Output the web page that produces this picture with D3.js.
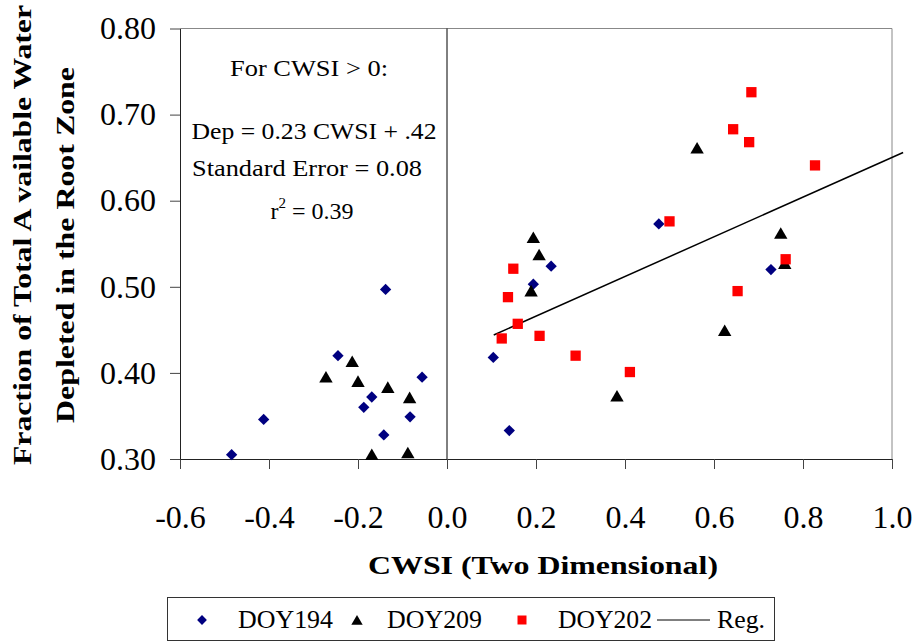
<!DOCTYPE html>
<html><head><meta charset="utf-8">
<script src="https://cdn.jsdelivr.net/npm/d3@7"></script>
<style>body{margin:0;background:#fff}svg{display:block}</style>
</head><body>
<svg id="c" width="915" height="642"></svg>
<script>
// ---- data ----
const xTicks = [-0.6, -0.4, -0.2, 0.0, 0.2, 0.4, 0.6, 0.8, 1.0];
const yTicks = [0.30, 0.40, 0.50, 0.60, 0.70, 0.80];

const doy194X = [-0.484, -0.412, -0.245, -0.056, -0.169, -0.187, -0.083, -0.142, -0.138, 0.234, 0.194, 0.104, 0.140, 0.476, 0.728];
const doy194Y = [0.305, 0.346, 0.420, 0.395, 0.372, 0.360, 0.349, 0.328, 0.497, 0.524, 0.503, 0.418, 0.333, 0.573, 0.520];

const doy209X = [-0.213, -0.272, -0.200, -0.133, -0.084, -0.169, -0.088, 0.194, 0.207, 0.189, 0.382, 0.562, 0.750, 0.759, 0.624];
const doy209Y = [0.413, 0.395, 0.390, 0.383, 0.371, 0.305, 0.307, 0.557, 0.537, 0.495, 0.373, 0.661, 0.562, 0.527, 0.449];

const doy202X = [0.149, 0.137, 0.159, 0.123, 0.208, 0.289, 0.411, 0.684, 0.643, 0.679, 0.827, 0.500, 0.761, 0.653];
const doy202Y = [0.521, 0.488, 0.457, 0.440, 0.443, 0.420, 0.401, 0.726, 0.683, 0.668, 0.641, 0.576, 0.532, 0.495];

const regX = [0.105, 1.025];
const regY = [0.444, 0.656];

const seriesNames = ["DOY194", "DOY209", "DOY202", "Reg."];
const annotation = ["For CWSI > 0:", "Dep = 0.23 CWSI + .42", "Standard Error = 0.08"];
const xTitle = "CWSI (Two Dimensional)";
const yTitle = ["Fraction of Total A vailable Water", "Depleted in the Root Zone"];

// ---- chart ----
const svg = d3.select("#c");
const serif = "Liberation Serif, Times New Roman, serif";
const L = 180, R = 892, T = 28.5, B = 459;
const x = d3.scaleLinear().domain([-0.6, 1.0]).range([L, R]);
const y = d3.scaleLinear().domain([0.3, 0.8]).range([B, T]);

// frame: top/right grey
svg.append("line").attr("x1", L).attr("x2", R).attr("y1", T).attr("y2", T).attr("stroke", "#888").attr("stroke-width", 1);
svg.append("line").attr("x1", R).attr("x2", R).attr("y1", T).attr("y2", B).attr("stroke", "#888").attr("stroke-width", 1);

// axes
const xAxis = d3.axisBottom(x).tickValues(xTicks).tickSize(10).tickSizeOuter(0).tickPadding(36)
  .tickFormat(d => d.toFixed(1));
const gx = svg.append("g").attr("transform", `translate(0,${B})`).call(xAxis);
gx.selectAll("text").attr("font-family", serif).attr("font-size", 32).attr("fill", "#000");
gx.select(".domain").attr("stroke", "#222");
gx.selectAll(".tick line").attr("stroke", "#444");

const yAxis = d3.axisLeft(y).tickValues(yTicks).tickSize(10).tickSizeOuter(0).tickPadding(14)
  .tickFormat(d => d.toFixed(2));
const gy = svg.append("g").attr("transform", `translate(${L},0)`).call(yAxis);
gy.selectAll("text").attr("font-family", serif).attr("font-size", 32).attr("fill", "#000");
gy.select(".domain").attr("stroke", "#222");
gy.selectAll(".tick line").attr("stroke", "#444");

// vertical line at CWSI = 0
svg.append("line").attr("x1", x(0)).attr("x2", x(0)).attr("y1", T).attr("y2", B).attr("stroke", "#000").attr("stroke-width", 1);

// regression line
svg.append("path")
  .attr("d", d3.line().x(d => x(d[0])).y(d => y(d[1]))(d3.zip(regX, regY)))
  .attr("stroke", "#000").attr("stroke-width", 1.5).attr("fill", "none");

// markers
const diamond = d3.symbol().type(d3.symbolSquare).size(64)();
const tri = d3.symbol().type(d3.symbolTriangle).size(78)();
const sq = d3.symbol().type(d3.symbolSquare).size(106)();

svg.append("g").selectAll("path").data(d3.zip(doy194X, doy194Y)).join("path")
  .attr("d", diamond).attr("fill", "#000080")
  .attr("transform", d => `translate(${x(d[0])},${y(d[1])}) rotate(45)`);
svg.append("g").selectAll("path").data(d3.zip(doy209X, doy209Y)).join("path")
  .attr("d", tri).attr("fill", "#000")
  .attr("transform", d => `translate(${x(d[0])},${y(d[1]) + 1.5})`);
svg.append("g").selectAll("path").data(d3.zip(doy202X, doy202Y)).join("path")
  .attr("d", sq).attr("fill", "#ff0000")
  .attr("transform", d => `translate(${x(d[0])},${y(d[1])})`);

// annotation
const ann = svg.append("g").attr("font-family", serif).attr("font-size", 24).attr("text-anchor", "middle").attr("fill", "#000");
ann.append("text").attr("x", 309).attr("y", 76).attr("textLength", 158).attr("lengthAdjust", "spacingAndGlyphs").text(annotation[0]);
ann.append("text").attr("x", 314).attr("y", 139).attr("textLength", 245).attr("lengthAdjust", "spacingAndGlyphs").text(annotation[1]);
ann.append("text").attr("x", 307).attr("y", 176).attr("textLength", 230).attr("lengthAdjust", "spacingAndGlyphs").text(annotation[2]);
const r2 = ann.append("text").attr("x", 312).attr("y", 219);
r2.append("tspan").text("r");
r2.append("tspan").attr("dy", -11).attr("font-size", 15).text("2");
r2.append("tspan").attr("dy", 11).text(" = 0.39");

// axis titles
svg.append("text").attr("x", 543).attr("y", 574).attr("text-anchor", "middle")
  .attr("font-family", serif).attr("font-weight", "bold").attr("font-size", 26)
  .attr("textLength", 350).attr("lengthAdjust", "spacingAndGlyphs").text(xTitle);

const yt = svg.append("g").attr("font-family", serif).attr("font-weight", "bold").attr("font-size", 26).attr("text-anchor", "middle");
yt.append("text").attr("transform", "translate(31,235) rotate(-90)")
  .attr("textLength", 460).attr("lengthAdjust", "spacingAndGlyphs").text(yTitle[0]);
yt.append("text").attr("transform", "translate(74,245) rotate(-90)")
  .attr("textLength", 356).attr("lengthAdjust", "spacingAndGlyphs").text(yTitle[1]);

// legend
const lg = svg.append("g");
lg.append("rect").attr("x", 167.5).attr("y", 597.5).attr("width", 607).attr("height", 43)
  .attr("fill", "#fff").attr("stroke", "#333").attr("stroke-width", 1);
const ly = 620;
lg.append("path").attr("d", d3.symbol().type(d3.symbolSquare).size(48)()).attr("fill", "#000080")
  .attr("transform", `translate(202,${ly}) rotate(45)`);
lg.append("path").attr("d", d3.symbol().type(d3.symbolTriangle).size(56)()).attr("fill", "#000")
  .attr("transform", `translate(357,${ly + 1.5})`);
lg.append("path").attr("d", d3.symbol().type(d3.symbolSquare).size(81)()).attr("fill", "#ff0000")
  .attr("transform", `translate(522,${ly})`);
lg.append("line").attr("x1", 657).attr("x2", 710).attr("y1", ly).attr("y2", ly).attr("stroke", "#000").attr("stroke-width", 1);
const lt = lg.append("g").attr("font-family", serif).attr("font-size", 25).attr("fill", "#000");
const legX = [238, 387, 558, 717];
const legW = [95, 95, 94, 48];
seriesNames.forEach((n, i) => {
  lt.append("text").attr("x", legX[i]).attr("y", 628).attr("textLength", legW[i])
    .attr("lengthAdjust", "spacingAndGlyphs").text(n);
});
</script>
</body></html>
